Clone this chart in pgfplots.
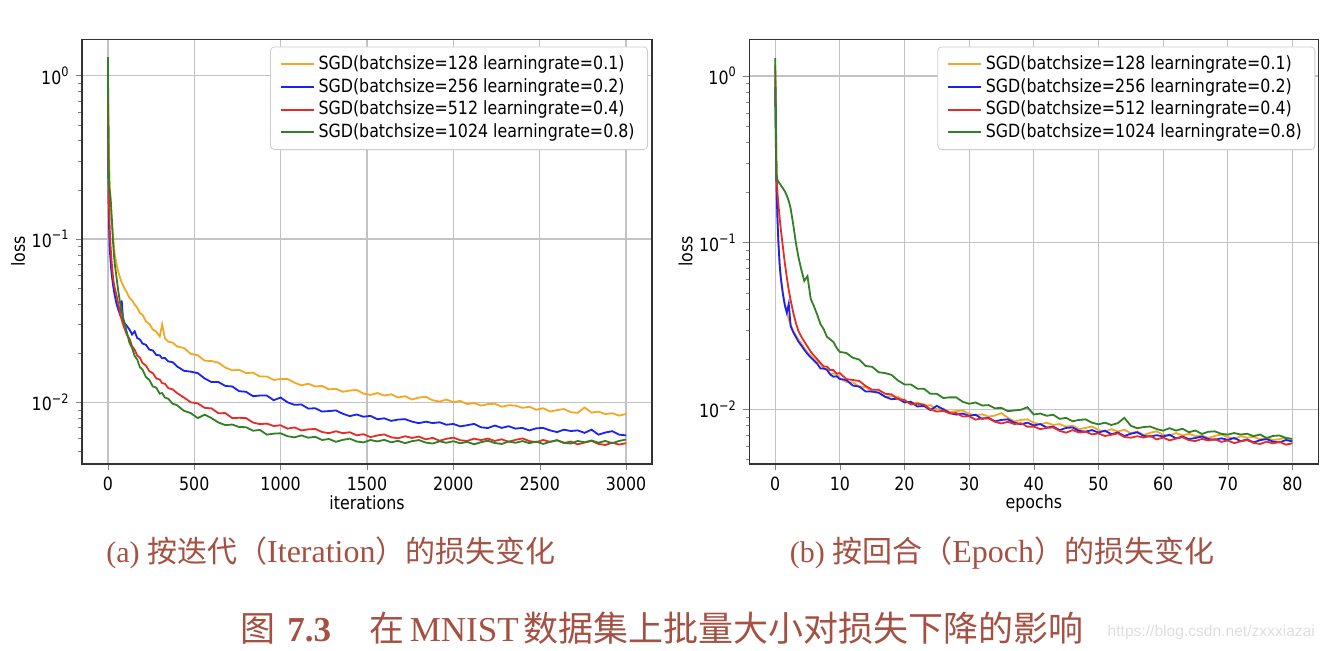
\documentclass[border=0pt]{standalone}
\usepackage{fontspec}
\usepackage{pgfplots}
\usepackage{pgfplotstable}
\pgfplotsset{compat=1.18}
\setmainfont{DejaVu Sans}[FakeStretch=0.87]
\newfontfamily\capserif{Liberation Serif}
\newfontfamily\cjk{Noto Sans CJK SC}
\newfontfamily\wmfont{Liberation Sans}

\definecolor{cO}{RGB}{245,166,35}
\definecolor{cB}{RGB}{25,35,245}
\definecolor{cR}{RGB}{228,45,38}
\definecolor{cG}{RGB}{48,128,38}
\definecolor{gridc}{RGB}{195,195,195}
\definecolor{legc}{RGB}{205,205,205}
\definecolor{capc}{RGB}{165,80,66}
\definecolor{wmc}{RGB}{222,222,222}

\newcommand{\ep}[1]{10\raisebox{0.42em}{\fontsize{6.5}{7}\selectfont #1}}
\newcommand{\tfont}{\fontsize{9.1}{10}\selectfont}

\pgfplotstableread{
x o b r g
0 1.20 0.90 1.00 1.30
2 0.75 0.30 0.35 0.60
4 0.48 0.17 0.22 0.30
6 0.35 0.13 0.17 0.24
8 0.27 0.105 0.14 0.21
10 0.22 0.090 0.12 0.20
13 0.18 0.080 0.10 0.19
16 0.155 0.072 0.088 0.175
20 0.135 0.064 0.076 0.15
25 0.118 0.057 0.066 0.12
30 0.104 0.052 0.058 0.095
35 0.090 0.048 0.053 0.080
40 0.080 0.045 0.050 0.070
50 0.070 0.040 0.045 0.058
60 0.063 0.037 0.040 0.048
70 0.058 0.0345 0.0355 0.041
80 0.054 0.042 0.032 0.036
88 0.052 0.0318 0.030 0.033
95 0.050 0.0307 0.0285 0.031
110 0.0470 0.0293 0.0259 0.0268
125 0.0436 0.0279 0.0245 0.0231
140 0.0421 0.0260 0.0220 0.0215
155 0.0396 0.0272 0.0210 0.0192
170 0.0380 0.0247 0.0193 0.0183
185 0.0352 0.0243 0.0188 0.0164
200 0.0344 0.0229 0.0174 0.0159
220 0.0313 0.0225 0.0168 0.0143
240 0.0302 0.0210 0.0155 0.0137
260 0.0279 0.0208 0.0151 0.0125
280 0.0271 0.0195 0.0140 0.0123
300 0.0253 0.0194 0.0138 0.0113
314 0.0300 0.0186 0.0131 0.0114
330 0.0247 0.0187 0.0130 0.0107
350 0.0235 0.0178 0.0122 0.0105
375 0.0232 0.0176 0.0120 0.0098
400 0.0220 0.0166 0.0114 0.0096
440 0.0215 0.0156 0.0107 0.00887
480 0.0198 0.0154 0.0100 0.00859
520 0.0194 0.0151 0.00985 0.00800
560 0.0180 0.0140 0.00925 0.00840
600 0.0179 0.0133 0.00918 0.00800
640 0.0175 0.0133 0.00857 0.00752
680 0.0163 0.0126 0.00859 0.00725
720 0.0157 0.0125 0.00800 0.00731
760 0.0158 0.0117 0.00804 0.00706
800 0.0151 0.0116 0.00800 0.00704
840 0.0152 0.0109 0.00752 0.00670
880 0.0144 0.0110 0.00735 0.00677
920 0.0144 0.0110 0.00741 0.00634
960 0.0137 0.0103 0.00716 0.00643
1000 0.0139 0.0107 0.00724 0.00646
1040 0.0139 0.0100 0.00690 0.00620
1080 0.0132 0.00965 0.00702 0.00610
1120 0.0127 0.0097 0.00673 0.00627
1160 0.0130 0.00915 0.00683 0.00607
1200 0.0125 0.00920 0.00687 0.00615
1240 0.0126 0.00878 0.00658 0.00588
1280 0.0120 0.00884 0.00647 0.00596
1320 0.0121 0.00892 0.00665 0.00573
1360 0.0116 0.00851 0.00647 0.00589
1400 0.0118 0.00823 0.00656 0.00599
1440 0.0119 0.00842 0.00628 0.00576
1480 0.0113 0.00816 0.00638 0.00568
1520 0.0111 0.00826 0.00612 0.00588
1560 0.0114 0.00788 0.00627 0.00576
1600 0.0110 0.00798 0.00636 0.00589
1640 0.0112 0.00770 0.00611 0.00569
1680 0.0107 0.00784 0.00602 0.00581
1720 0.0109 0.00789 0.00620 0.00562
1760 0.0104 0.00762 0.00605 0.00578
1800 0.0107 0.00745 0.00617 0.00587
1840 0.0108 0.00761 0.00593 0.00567
1880 0.0103 0.00746 0.00606 0.00559
1920 0.0101 0.00755 0.00582 0.00577
1960 0.0104 0.00729 0.00598 0.00565
2000 0.0100 0.00737 0.00608 0.00578
2040 0.0102 0.00712 0.00586 0.00561
2080 0.00975 0.00724 0.00580 0.00573
2120 0.0099 0.00738 0.00599 0.00553
2160 0.00955 0.00703 0.00587 0.00570
2200 0.00975 0.00696 0.00600 0.00582
2240 0.0098 0.00721 0.00580 0.00563
2280 0.0094 0.00697 0.00594 0.00556
2320 0.0096 0.00714 0.00573 0.00576
2360 0.00955 0.00690 0.00589 0.00565
2400 0.00925 0.00697 0.00601 0.00579
2440 0.0094 0.00673 0.00579 0.00562
2480 0.0090 0.00693 0.00570 0.00575
2520 0.0092 0.00697 0.00588 0.00556
2560 0.00878 0.00673 0.00573 0.00573
2600 0.00895 0.00657 0.00586 0.00586
2640 0.0091 0.00680 0.00563 0.00566
2680 0.0087 0.00667 0.00575 0.00559
2720 0.00862 0.00673 0.00553 0.00580
2760 0.0093 0.00650 0.00567 0.00569
2800 0.00865 0.00680 0.00580 0.00584
2840 0.00877 0.00634 0.00556 0.00566
2880 0.00847 0.00653 0.00548 0.00580
2920 0.00858 0.00666 0.00566 0.00562
2960 0.00829 0.00634 0.00551 0.00580
3000 0.00849 0.00627 0.00562 0.00592
}\lefttab

\pgfplotstableread{
x o b r g
0 0.95 0.86 1.16 1.28
0.1 0.45 0.40 0.55 0.70
0.2 0.23 0.22 0.26 0.26
0.35 0.145 0.14 0.20 0.238
0.5 0.102 0.100 0.170 0.232
0.7 0.074 0.073 0.140 0.226
0.9 0.061 0.060 0.118 0.220
1.2 0.050 0.049 0.094 0.212
1.5 0.043 0.042 0.075 0.203
1.8 0.0385 0.038 0.062 0.192
2.1 0.0345 0.043 0.052 0.178
2.4 0.0322 0.0315 0.045 0.160
2.8 0.0296 0.0290 0.038 0.128
3.2 0.0278 0.0272 0.0330 0.100
3.6 0.0262 0.0255 0.0295 0.082
4.0 0.0250 0.0243 0.0275 0.070
4.5 0.0233 0.0228 0.0255 0.059
5.0 0.0219 0.0215 0.0238 0.063
5.5 0.0209 0.0205 0.0222 0.046
6.0 0.0200 0.0196 0.0210 0.0415
6.5 0.0192 0.0188 0.0200 0.037
7 0.0189 0.0176 0.0190 0.0325
7.5 0.0175 0.0176 0.0181 0.0303
8 0.0174 0.0173 0.0181 0.0273
8.5 0.0163 0.0162 0.0172 0.0263
9 0.0164 0.0157 0.0172 0.0254
9.5 0.0163 0.0158 0.0164 0.0234
10 0.0154 0.0152 0.0165 0.0221
11 0.0146 0.0150 0.0152 0.0218
12 0.0145 0.0139 0.0150 0.0204
13 0.0137 0.0137 0.0148 0.0199
14 0.0136 0.0128 0.0138 0.0182
15 0.0127 0.0128 0.0131 0.0180
16 0.0126 0.0126 0.0131 0.0167
17 0.0119 0.0119 0.0124 0.0165
18 0.0120 0.0115 0.0123 0.0161
19 0.0119 0.0116 0.0115 0.0149
20 0.0112 0.0110 0.0114 0.0141
21 0.0109 0.0111 0.0107 0.0141
22 0.0110 0.0104 0.0108 0.0133
23 0.0105 0.0105 0.0107 0.0133
24 0.0106 0.0099 0.0100 0.0124
25 0.0100 0.0105 0.0097 0.0124
26 0.0101 0.0100 0.0098 0.0117
27 0.00965 0.0095 0.00945 0.0118
28 0.00975 0.0093 0.0095 0.0118
29 0.00984 0.00944 0.00906 0.0111
30 0.0094 0.00915 0.00909 0.0108
31 0.00921 0.00928 0.00868 0.0110
32 0.00934 0.00877 0.00884 0.01055
33 0.00905 0.00889 0.00882 0.0106
34 0.00918 0.00848 0.00842 0.01015
35 0.0095 0.00864 0.00823 0.0102
36 0.00889 0.00871 0.00842 0.00975
37 0.00848 0.00832 0.00816 0.00985
38 0.00864 0.00813 0.00826 0.00994
39 0.00871 0.00832 0.00788 0.0103
40 0.00832 0.00801 0.00788 0.00931
41 0.00813 0.00816 0.00761 0.00944
42 0.00832 0.00778 0.00774 0.00915
43 0.00806 0.00788 0.00779 0.00928
44 0.00816 0.00751 0.00743 0.00877
45 0.00788 0.00774 0.00725 0.00889
46 0.00798 0.00779 0.00751 0.00848
47 0.00761 0.00743 0.00726 0.00864
48 0.00774 0.00735 0.00734 0.00871
49 0.00789 0.00751 0.00709 0.00832
50 0.00752 0.00726 0.00717 0.00813
51 0.00735 0.00745 0.00692 0.00832
52 0.00761 0.00709 0.00704 0.00806
53 0.00736 0.00727 0.00718 0.00826
54 0.00755 0.00692 0.00683 0.0089
55 0.00719 0.00714 0.00676 0.00798
56 0.00737 0.00728 0.0069 0.0077
57 0.00702 0.00693 0.00677 0.00784
58 0.00724 0.00686 0.00694 0.00789
59 0.00738 0.0070 0.0066 0.00762
60 0.00703 0.00687 0.00677 0.00745
61 0.00696 0.00704 0.00651 0.00771
62 0.00721 0.0067 0.00668 0.00746
63 0.00697 0.00687 0.0068 0.00765
64 0.00714 0.00663 0.00653 0.00729
65 0.0069 0.00673 0.00645 0.00747
66 0.00697 0.00687 0.00665 0.00712
67 0.00673 0.00663 0.0065 0.00734
68 0.00693 0.00657 0.00663 0.00738
69 0.00707 0.0067 0.00638 0.00713
70 0.00683 0.00657 0.00651 0.00706
71 0.00666 0.00673 0.00627 0.00721
72 0.0069 0.00645 0.00643 0.00706
73 0.00677 0.0066 0.00654 0.00714
74 0.00683 0.00634 0.00629 0.0069
75 0.0066 0.00653 0.0062 0.00707
76 0.00677 0.00664 0.0064 0.00673
77 0.00653 0.0064 0.00625 0.00693
78 0.00663 0.00633 0.00638 0.00697
79 0.00677 0.00655 0.00614 0.00673
80 0.00653 0.00642 0.00626 0.00666
}\righttab

\begin{document}
\begin{tikzpicture}[x=1pt,y=1pt]
\path[use as bounding box] (0,0) rectangle (665,325);

\begin{axis}[
    at={(41pt,93pt)}, anchor=south west,
    scale only axis, width=285pt, height=212.35pt,
    xmin=-150, xmax=3150, xtick={0,500,1000,1500,2000,2500,3000},
    xlabel={iterations}, ylabel={loss},
    ymode=log, ymin=0.00419, ymax=1.67,
    ytick={0.01,0.1,1},
    yticklabels={\ep{−2},\ep{−1},\ep{0}},
    minor ytick={0.005,0.006,0.007,0.008,0.009,0.02,0.03,0.04,0.05,0.06,0.07,0.08,0.09,0.2,0.3,0.4,0.5,0.6,0.7,0.8,0.9},
    grid=major,
    major grid style={color=gridc, line width=0.6pt},
    axis line style={black!80, line width=0.6pt},
    major tick length=3.2pt, minor tick length=1.8pt,
    tick align=outside, tick pos=left,
    scaled x ticks=false,
    xticklabel={\pgfmathprintnumber[assume math mode=true,1000 sep={}]{\tick}},
    tick label style={font=\tfont},
    xlabel style={font=\tfont, at={(axis description cs:0.5,-0.092)}, anchor=center},
    ylabel style={font=\tfont, at={(axis description cs:-0.112,0.5)}, anchor=center},
    legend cell align=left,
    legend image code/.code={\draw[#1, line width=1pt] (0pt,0pt) -- (16.5pt,0pt);},
    legend style={at={(1,1)}, anchor=north east, xshift=-2pt, yshift=-3.6pt,
      draw=legc, rounded corners=2pt, fill=white,
      font=\tfont, row sep=-1.1pt, inner xsep=4.5pt, inner ysep=2.5pt},
  ]
\addplot[cO, line width=0.9pt] table[x=x,y=o]{\lefttab};
\addlegendentry{SGD(batchsize=128 learningrate=0.1)}
\addplot[cB, line width=0.9pt] table[x=x,y=b]{\lefttab};
\addlegendentry{SGD(batchsize=256 learningrate=0.2)}
\addplot[cR, line width=0.9pt] table[x=x,y=r]{\lefttab};
\addlegendentry{SGD(batchsize=512 learningrate=0.4)}
\addplot[cG, line width=0.9pt] table[x=x,y=g]{\lefttab};
\addlegendentry{SGD(batchsize=1024 learningrate=0.8)}
\end{axis}

\begin{axis}[
    at={(374.65pt,93pt)}, anchor=south west,
    scale only axis, width=284.5pt, height=212.35pt,
    xmin=-4, xmax=84, xtick={0,10,20,30,40,50,60,70,80},
    xlabel={epochs}, ylabel={loss},
    ymode=log, ymin=0.0047, ymax=1.66,
    ytick={0.01,0.1,1},
    yticklabels={\ep{−2},\ep{−1},\ep{0}},
    minor ytick={0.005,0.006,0.007,0.008,0.009,0.02,0.03,0.04,0.05,0.06,0.07,0.08,0.09,0.2,0.3,0.4,0.5,0.6,0.7,0.8,0.9},
    grid=major,
    major grid style={color=gridc, line width=0.6pt},
    axis line style={black!80, line width=0.6pt},
    major tick length=3.2pt, minor tick length=1.8pt,
    tick align=outside, tick pos=left,
    scaled x ticks=false,
    xticklabel={\pgfmathprintnumber[assume math mode=true,1000 sep={}]{\tick}},
    tick label style={font=\tfont},
    xlabel style={font=\tfont, at={(axis description cs:0.5,-0.092)}, anchor=center},
    ylabel style={font=\tfont, at={(axis description cs:-0.112,0.5)}, anchor=center},
    legend cell align=left,
    legend image code/.code={\draw[#1, line width=1pt] (0pt,0pt) -- (16.5pt,0pt);},
    legend style={at={(1,1)}, anchor=north east, xshift=-1.5pt, yshift=-3.6pt,
      draw=legc, rounded corners=2pt, fill=white,
      font=\tfont, row sep=-1.1pt, inner xsep=4.5pt, inner ysep=2.5pt},
  ]
\addplot[cO, line width=0.9pt] table[x=x,y=o]{\righttab};
\addlegendentry{SGD(batchsize=128 learningrate=0.1)}
\addplot[cB, line width=0.9pt] table[x=x,y=b]{\righttab};
\addlegendentry{SGD(batchsize=256 learningrate=0.2)}
\addplot[cR, line width=0.9pt] table[x=x,y=r]{\righttab};
\addlegendentry{SGD(batchsize=512 learningrate=0.4)}
\addplot[cG, line width=0.9pt] table[x=x,y=g]{\righttab};
\addlegendentry{SGD(batchsize=1024 learningrate=0.8)}
\end{axis}

\node[text=capc, anchor=center] at (165.5,48.5)
  {\fontsize{15}{18}\selectfont\capserif (a)\hspace{0.25em}\cjk 按迭代（\capserif\fontsize{16}{18}\selectfont Iteration\cjk\fontsize{15}{18}\selectfont ）的损失变化};
\node[text=capc, anchor=center] at (501,48.5)
  {\fontsize{15}{18}\selectfont\capserif (b)\hspace{0.25em}\cjk 按回合（\capserif\fontsize{16}{18}\selectfont Epoch\cjk\fontsize{15}{18}\selectfont ）的损失变化};
\node[text=capc, anchor=center] at (331,11)
  {\fontsize{17.5}{20}\selectfont\cjk 图\hspace{0.35em}\capserif\bfseries 7.3\hspace{1.1em}\mdseries\cjk 在\hspace{0.15em}\capserif MNIST\hspace{0.15em}\cjk 数据集上批量大小对损失下降的影响};
\node[text=wmc, anchor=east] at (661,9)
  {\wmfont\fontsize{7.8}{9}\selectfont https://blog.csdn.net/zxxxiazai};
\end{tikzpicture}
\end{document}
